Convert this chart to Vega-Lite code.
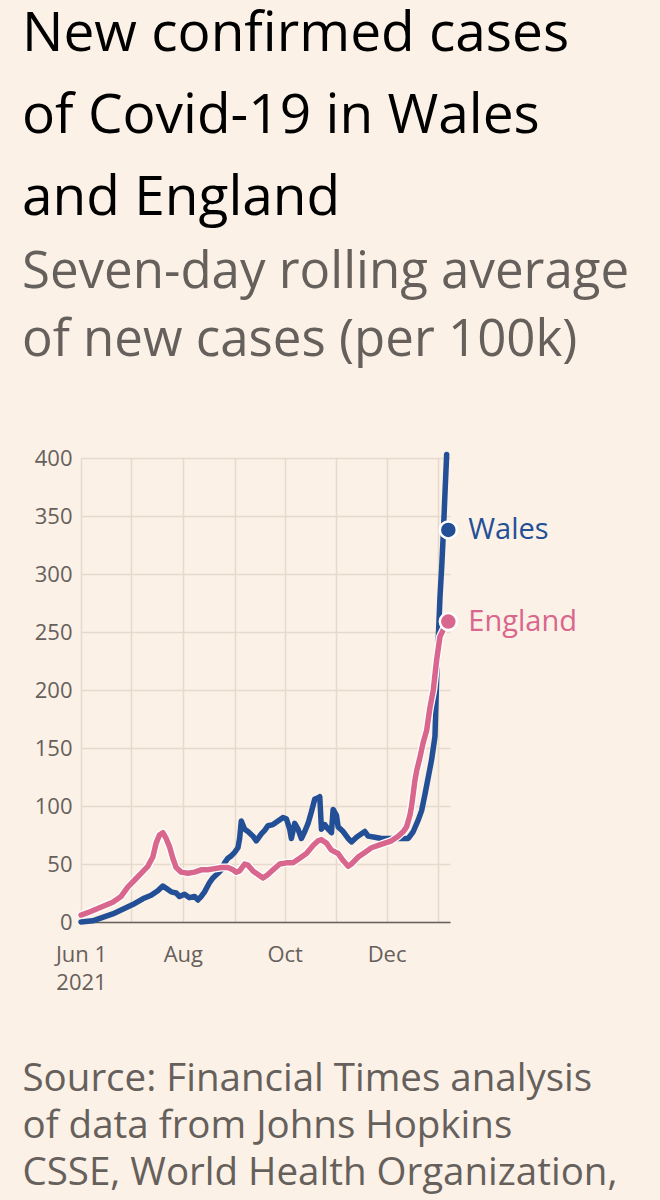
{
  "$schema": "https://vega.github.io/schema/vega-lite/v6.json",
  "autosize": "none",
  "width": 369,
  "height": 464,
  "padding": {"left": 81, "top": 458, "right": 210, "bottom": 278},
  "background": "#fcf1e6",
  "config": {
    "view": {"stroke": null},
    "font": "Open Sans"
  },
  "title": {
    "text": ["New confirmed cases", "of Covid-19 in Wales", "and England"],
    "subtitle": ["Seven-day rolling average", "of new cases (per 100k)"],
    "anchor": "start",
    "frame": "group",
    "dx": -59,
    "font": "Open Sans",
    "fontSize": 55,
    "fontWeight": "normal",
    "color": "#000000",
    "lineHeight": 82,
    "subtitleFont": "Open Sans",
    "subtitleFontSize": 51,
    "subtitleColor": "#66605c",
    "subtitleLineHeight": 68,
    "subtitlePadding": 21,
    "offset": 80
  },
  "datasets": {
    "series": [
      {"date": "2021-06-01", "country": "Wales", "value": 0},
      {"date": "2021-06-08", "country": "Wales", "value": 1},
      {"date": "2021-06-14", "country": "Wales", "value": 4},
      {"date": "2021-06-20", "country": "Wales", "value": 7},
      {"date": "2021-06-26", "country": "Wales", "value": 11},
      {"date": "2021-07-02", "country": "Wales", "value": 15},
      {"date": "2021-07-08", "country": "Wales", "value": 20},
      {"date": "2021-07-13", "country": "Wales", "value": 23},
      {"date": "2021-07-17", "country": "Wales", "value": 27},
      {"date": "2021-07-20", "country": "Wales", "value": 31},
      {"date": "2021-07-22", "country": "Wales", "value": 29},
      {"date": "2021-07-25", "country": "Wales", "value": 26},
      {"date": "2021-07-28", "country": "Wales", "value": 25},
      {"date": "2021-07-30", "country": "Wales", "value": 22},
      {"date": "2021-08-02", "country": "Wales", "value": 24},
      {"date": "2021-08-05", "country": "Wales", "value": 21},
      {"date": "2021-08-08", "country": "Wales", "value": 22},
      {"date": "2021-08-10", "country": "Wales", "value": 19},
      {"date": "2021-08-12", "country": "Wales", "value": 22},
      {"date": "2021-08-14", "country": "Wales", "value": 26},
      {"date": "2021-08-17", "country": "Wales", "value": 34},
      {"date": "2021-08-19", "country": "Wales", "value": 38},
      {"date": "2021-08-22", "country": "Wales", "value": 42},
      {"date": "2021-08-24", "country": "Wales", "value": 45},
      {"date": "2021-08-26", "country": "Wales", "value": 51},
      {"date": "2021-08-28", "country": "Wales", "value": 55},
      {"date": "2021-08-30", "country": "Wales", "value": 57},
      {"date": "2021-09-01", "country": "Wales", "value": 60},
      {"date": "2021-09-03", "country": "Wales", "value": 64},
      {"date": "2021-09-04", "country": "Wales", "value": 72},
      {"date": "2021-09-05", "country": "Wales", "value": 87},
      {"date": "2021-09-07", "country": "Wales", "value": 80},
      {"date": "2021-09-09", "country": "Wales", "value": 78},
      {"date": "2021-09-12", "country": "Wales", "value": 74},
      {"date": "2021-09-14", "country": "Wales", "value": 70},
      {"date": "2021-09-17", "country": "Wales", "value": 76},
      {"date": "2021-09-19", "country": "Wales", "value": 79},
      {"date": "2021-09-21", "country": "Wales", "value": 83},
      {"date": "2021-09-24", "country": "Wales", "value": 84},
      {"date": "2021-09-27", "country": "Wales", "value": 87},
      {"date": "2021-09-30", "country": "Wales", "value": 90},
      {"date": "2021-10-02", "country": "Wales", "value": 89},
      {"date": "2021-10-04", "country": "Wales", "value": 80},
      {"date": "2021-10-05", "country": "Wales", "value": 72},
      {"date": "2021-10-07", "country": "Wales", "value": 85},
      {"date": "2021-10-09", "country": "Wales", "value": 80},
      {"date": "2021-10-11", "country": "Wales", "value": 72},
      {"date": "2021-10-13", "country": "Wales", "value": 78},
      {"date": "2021-10-15", "country": "Wales", "value": 85},
      {"date": "2021-10-17", "country": "Wales", "value": 95},
      {"date": "2021-10-19", "country": "Wales", "value": 106},
      {"date": "2021-10-21", "country": "Wales", "value": 107},
      {"date": "2021-10-22", "country": "Wales", "value": 108},
      {"date": "2021-10-23", "country": "Wales", "value": 80},
      {"date": "2021-10-25", "country": "Wales", "value": 84},
      {"date": "2021-10-27", "country": "Wales", "value": 80},
      {"date": "2021-10-29", "country": "Wales", "value": 77},
      {"date": "2021-10-30", "country": "Wales", "value": 97},
      {"date": "2021-11-01", "country": "Wales", "value": 92},
      {"date": "2021-11-02", "country": "Wales", "value": 82},
      {"date": "2021-11-05", "country": "Wales", "value": 78},
      {"date": "2021-11-08", "country": "Wales", "value": 72},
      {"date": "2021-11-10", "country": "Wales", "value": 69},
      {"date": "2021-11-13", "country": "Wales", "value": 73},
      {"date": "2021-11-16", "country": "Wales", "value": 76},
      {"date": "2021-11-18", "country": "Wales", "value": 78},
      {"date": "2021-11-20", "country": "Wales", "value": 74},
      {"date": "2021-11-24", "country": "Wales", "value": 73},
      {"date": "2021-11-28", "country": "Wales", "value": 72},
      {"date": "2021-12-02", "country": "Wales", "value": 72},
      {"date": "2021-12-06", "country": "Wales", "value": 72},
      {"date": "2021-12-10", "country": "Wales", "value": 72},
      {"date": "2021-12-14", "country": "Wales", "value": 72},
      {"date": "2021-12-17", "country": "Wales", "value": 78},
      {"date": "2021-12-20", "country": "Wales", "value": 88},
      {"date": "2021-12-22", "country": "Wales", "value": 96},
      {"date": "2021-12-24", "country": "Wales", "value": 110},
      {"date": "2021-12-26", "country": "Wales", "value": 125},
      {"date": "2021-12-28", "country": "Wales", "value": 140},
      {"date": "2021-12-29", "country": "Wales", "value": 150},
      {"date": "2021-12-30", "country": "Wales", "value": 160},
      {"date": "2021-12-31", "country": "Wales", "value": 210},
      {"date": "2022-01-01", "country": "Wales", "value": 245},
      {"date": "2022-01-02", "country": "Wales", "value": 280},
      {"date": "2022-01-03", "country": "Wales", "value": 305},
      {"date": "2022-01-04", "country": "Wales", "value": 335},
      {"date": "2022-01-05", "country": "Wales", "value": 370},
      {"date": "2022-01-06", "country": "Wales", "value": 403},
      {"date": "2021-06-01", "country": "England", "value": 6},
      {"date": "2021-06-05", "country": "England", "value": 8},
      {"date": "2021-06-10", "country": "England", "value": 11},
      {"date": "2021-06-15", "country": "England", "value": 14},
      {"date": "2021-06-20", "country": "England", "value": 17},
      {"date": "2021-06-25", "country": "England", "value": 22},
      {"date": "2021-06-29", "country": "England", "value": 30},
      {"date": "2021-07-03", "country": "England", "value": 36},
      {"date": "2021-07-07", "country": "England", "value": 42},
      {"date": "2021-07-11", "country": "England", "value": 48},
      {"date": "2021-07-14", "country": "England", "value": 56},
      {"date": "2021-07-16", "country": "England", "value": 68},
      {"date": "2021-07-18", "country": "England", "value": 75},
      {"date": "2021-07-20", "country": "England", "value": 77},
      {"date": "2021-07-22", "country": "England", "value": 72},
      {"date": "2021-07-24", "country": "England", "value": 65},
      {"date": "2021-07-26", "country": "England", "value": 55},
      {"date": "2021-07-28", "country": "England", "value": 47},
      {"date": "2021-07-31", "country": "England", "value": 43},
      {"date": "2021-08-04", "country": "England", "value": 42},
      {"date": "2021-08-08", "country": "England", "value": 43},
      {"date": "2021-08-12", "country": "England", "value": 45},
      {"date": "2021-08-16", "country": "England", "value": 45},
      {"date": "2021-08-20", "country": "England", "value": 46},
      {"date": "2021-08-24", "country": "England", "value": 47},
      {"date": "2021-08-28", "country": "England", "value": 47},
      {"date": "2021-08-31", "country": "England", "value": 45},
      {"date": "2021-09-02", "country": "England", "value": 43},
      {"date": "2021-09-04", "country": "England", "value": 44},
      {"date": "2021-09-07", "country": "England", "value": 50},
      {"date": "2021-09-09", "country": "England", "value": 49},
      {"date": "2021-09-12", "country": "England", "value": 44},
      {"date": "2021-09-15", "country": "England", "value": 41},
      {"date": "2021-09-18", "country": "England", "value": 38},
      {"date": "2021-09-21", "country": "England", "value": 41},
      {"date": "2021-09-24", "country": "England", "value": 45},
      {"date": "2021-09-28", "country": "England", "value": 50},
      {"date": "2021-10-02", "country": "England", "value": 51},
      {"date": "2021-10-06", "country": "England", "value": 51},
      {"date": "2021-10-10", "country": "England", "value": 55},
      {"date": "2021-10-14", "country": "England", "value": 59},
      {"date": "2021-10-18", "country": "England", "value": 66},
      {"date": "2021-10-21", "country": "England", "value": 70},
      {"date": "2021-10-23", "country": "England", "value": 71},
      {"date": "2021-10-26", "country": "England", "value": 68},
      {"date": "2021-10-29", "country": "England", "value": 62},
      {"date": "2021-11-02", "country": "England", "value": 59},
      {"date": "2021-11-05", "country": "England", "value": 53},
      {"date": "2021-11-08", "country": "England", "value": 48},
      {"date": "2021-11-10", "country": "England", "value": 50},
      {"date": "2021-11-14", "country": "England", "value": 56},
      {"date": "2021-11-18", "country": "England", "value": 60},
      {"date": "2021-11-22", "country": "England", "value": 64},
      {"date": "2021-11-26", "country": "England", "value": 66},
      {"date": "2021-11-30", "country": "England", "value": 68},
      {"date": "2021-12-04", "country": "England", "value": 70},
      {"date": "2021-12-08", "country": "England", "value": 74},
      {"date": "2021-12-11", "country": "England", "value": 78},
      {"date": "2021-12-13", "country": "England", "value": 82},
      {"date": "2021-12-15", "country": "England", "value": 92},
      {"date": "2021-12-16", "country": "England", "value": 100},
      {"date": "2021-12-18", "country": "England", "value": 122},
      {"date": "2021-12-19", "country": "England", "value": 130},
      {"date": "2021-12-21", "country": "England", "value": 142},
      {"date": "2021-12-23", "country": "England", "value": 155},
      {"date": "2021-12-25", "country": "England", "value": 165},
      {"date": "2021-12-27", "country": "England", "value": 185},
      {"date": "2021-12-29", "country": "England", "value": 200},
      {"date": "2021-12-31", "country": "England", "value": 226},
      {"date": "2022-01-02", "country": "England", "value": 246},
      {"date": "2022-01-04", "country": "England", "value": 252},
      {"date": "2022-01-06", "country": "England", "value": 258}
    ],
    "ends": [
      {"date": "2022-01-07", "country": "Wales", "value": 338},
      {"date": "2022-01-07", "country": "England", "value": 259}
    ]
  },
  "data": {"name": "series"},
  "encoding": {
    "x": {
      "field": "date",
      "type": "temporal",
      "scale": {"type": "utc", "domain": ["2021-06-01", "2022-01-08"]},
      "axis": {
        "values": [
          {"utc": true, "year": 2021, "month": 6, "date": 1},
          {"utc": true, "year": 2021, "month": 7, "date": 1},
          {"utc": true, "year": 2021, "month": 8, "date": 1},
          {"utc": true, "year": 2021, "month": 9, "date": 1},
          {"utc": true, "year": 2021, "month": 10, "date": 1},
          {"utc": true, "year": 2021, "month": 11, "date": 1},
          {"utc": true, "year": 2021, "month": 12, "date": 1},
          {"utc": true, "year": 2022, "month": 1, "date": 1}
        ],
        "labelExpr": "utcmonth(datum.value) == 5 ? ['Jun 1', '2021'] : utcmonth(datum.value) == 7 ? 'Aug' : utcmonth(datum.value) == 9 ? 'Oct' : utcmonth(datum.value) == 11 ? 'Dec' : ''",
        "labelFont": "Open Sans",
        "labelFontSize": 22,
        "labelColor": "#66605c",
        "labelLineHeight": 28,
        "labelPadding": 22,
        "labelBaseline": "top",
        "labelFlush": false,
        "labelOverlap": false,
        "ticks": false,
        "domain": true,
        "domainColor": "#66605c",
        "domainWidth": 1.5,
        "grid": true,
        "gridColor": "#e6dace",
        "gridWidth": 1.5,
        "title": ["Source: Financial Times analysis", "of data from Johns Hopkins", "CSSE, World Health Organization,"],
        "titleFont": "Open Sans",
        "titleFontSize": 38.5,
        "titleFontWeight": "normal",
        "titleColor": "#66605c",
        "titleLineHeight": 47,
        "titleAnchor": "start",
        "titleAlign": "left",
        "titleBaseline": "alphabetic",
        "titleX": -59,
        "titleY": 168
      }
    },
    "y": {
      "field": "value",
      "type": "quantitative",
      "scale": {"domain": [0, 400], "nice": false},
      "axis": {
        "values": [0, 50, 100, 150, 200, 250, 300, 350, 400],
        "title": null,
        "labelFont": "Open Sans",
        "labelFontSize": 22,
        "labelColor": "#66605c",
        "labelPadding": 9,
        "ticks": false,
        "domain": false,
        "grid": true,
        "gridColor": "#e6dace",
        "gridWidth": 1.5
      }
    }
  },
  "layer": [
    {
      "transform": [{"filter": "datum.country == 'Wales'"}],
      "mark": {"type": "line", "color": "#234f96", "strokeWidth": 5.5, "strokeJoin": "round", "strokeCap": "round"}
    },
    {
      "transform": [{"filter": "datum.country == 'England'"}],
      "mark": {"type": "line", "color": "#ffffff", "strokeWidth": 8, "strokeJoin": "round", "strokeCap": "round"}
    },
    {
      "transform": [{"filter": "datum.country == 'England'"}],
      "mark": {"type": "line", "color": "#d9668c", "strokeWidth": 5.5, "strokeJoin": "round", "strokeCap": "round"}
    },
    {
      "data": {"name": "ends"},
      "mark": {"type": "point", "filled": true, "size": 290, "stroke": "#ffffff", "strokeWidth": 2.5, "opacity": 1},
      "encoding": {
        "color": {
          "field": "country",
          "type": "nominal",
          "scale": {"domain": ["Wales", "England"], "range": ["#234f96", "#d9668c"]},
          "legend": null
        }
      }
    },
    {
      "data": {"name": "ends"},
      "mark": {"type": "text", "align": "left", "baseline": "middle", "dx": 20, "fontSize": 29, "font": "Open Sans"},
      "encoding": {
        "text": {"field": "country"},
        "color": {
          "field": "country",
          "type": "nominal",
          "scale": {"domain": ["Wales", "England"], "range": ["#234f96", "#d9668c"]},
          "legend": null
        }
      }
    }
  ]
}
